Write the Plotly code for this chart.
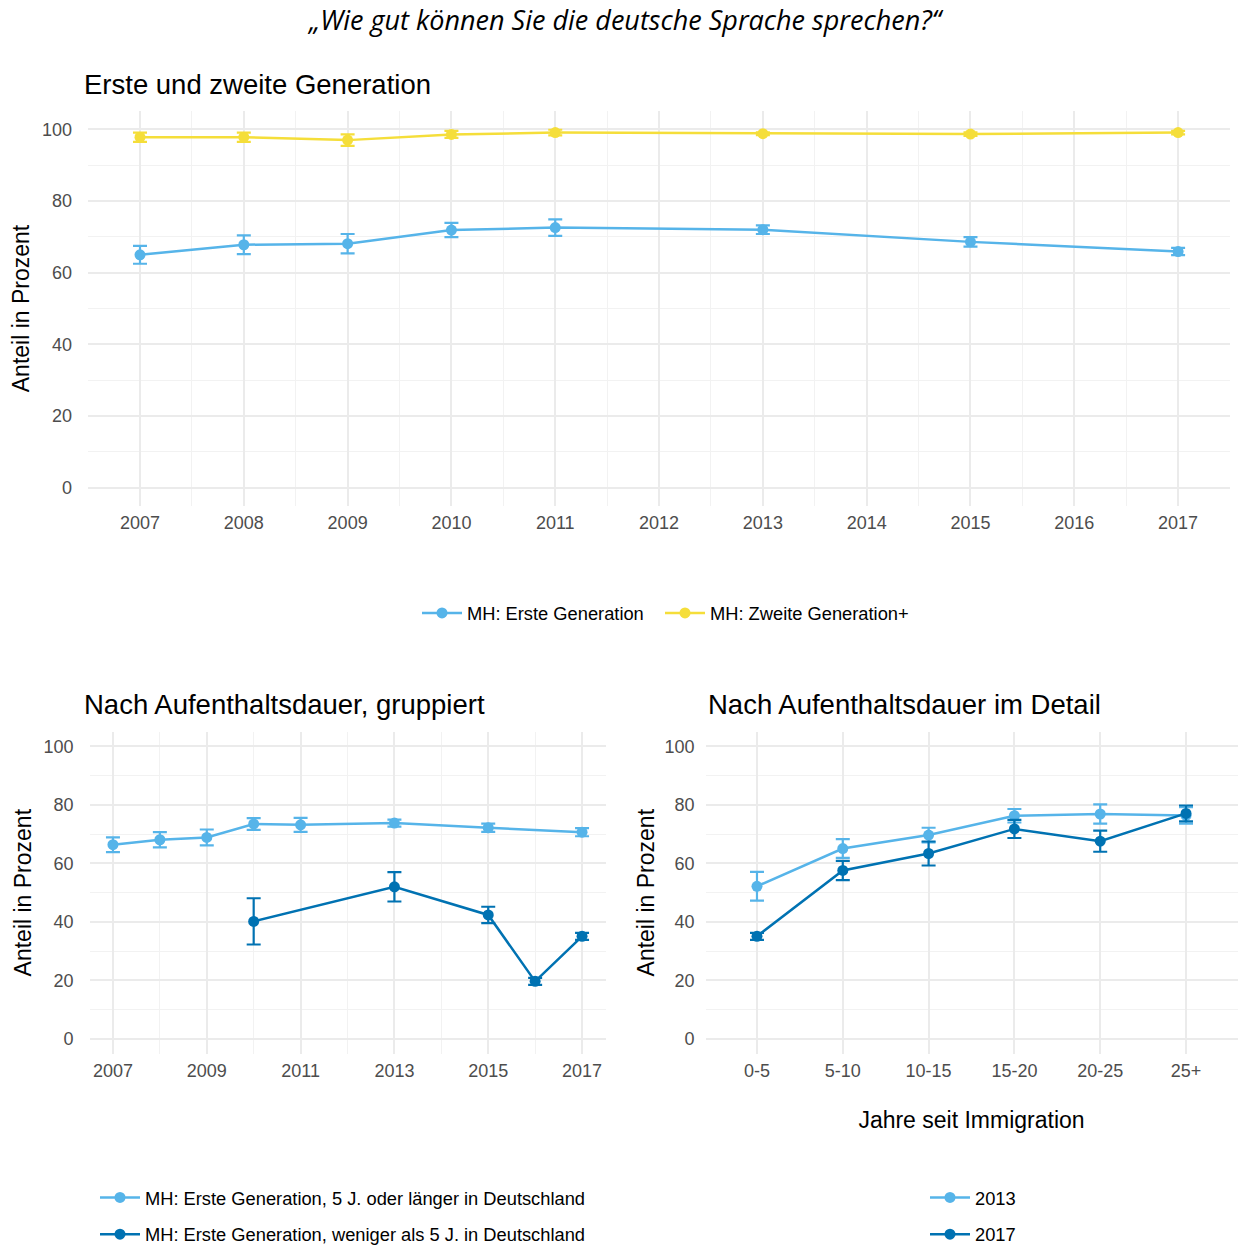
import plotly.graph_objects as go

W, H = 1238, 1253

# ---------------- data ----------------
years_top = [2007, 2008, 2009, 2010, 2011, 2013, 2015, 2017]
erste = [65.0, 67.8, 68.1, 71.9, 72.6, 72.0, 68.6, 65.9]
erste_err = [2.5, 2.6, 2.7, 2.0, 2.3, 1.2, 1.3, 1.0]
zweite = [97.8, 97.8, 97.0, 98.6, 99.1, 98.8, 98.7, 99.1]
zweite_err = [1.3, 1.3, 1.6, 1.0, 0.8, 0.4, 0.5, 0.5]

years_laenger = [2007, 2008, 2009, 2010, 2011, 2013, 2015, 2017]
laenger = [66.4, 68.1, 68.9, 73.5, 73.2, 73.8, 72.2, 70.7]
laenger_err = [2.5, 2.6, 2.7, 2.0, 2.4, 1.2, 1.4, 1.4]
years_weniger = [2010, 2013, 2015, 2016, 2017]
weniger = [40.2, 52.0, 42.4, 19.7, 35.1]
weniger_err = [7.9, 5.0, 2.8, 1.2, 1.2]

dauer_cats = ['0-5', '5-10', '10-15', '15-20', '20-25', '25+']
y2013 = [52.2, 65.1, 69.7, 76.3, 76.9, 76.4]
err2013 = [4.9, 3.2, 2.5, 2.3, 3.3, 2.8]
y2017 = [35.1, 57.6, 63.4, 71.8, 67.6, 77.1]
err2017 = [1.2, 3.3, 4.1, 3.1, 3.6, 2.7]

# ---------------- style ----------------
LIGHT = '#56B4E9'
DARK = '#0072B2'
YELLOW = '#F5DE3A'
FONT = 'Liberation Sans, Arial, sans-serif'
GRID = '#EBEBEB'
MINOR = '#F2F2F2'


def px_x(p):
    return p / W


def px_y(p):
    return 1 - p / H


def trace(x, y, err, color, name, xa, ya, legend, group):
    return go.Scatter(
        x=x, y=y, mode='lines+markers', name=name,
        line=dict(color=color, width=2.5),
        marker=dict(color=color, size=11),
        error_y=dict(type='data', array=err, visible=True, color=color,
                     thickness=2.2, width=7),
        xaxis=xa, yaxis=ya, legend=legend, legendgroup=group,
    )


fig = go.Figure()
fig.add_trace(trace(years_top, erste, erste_err, LIGHT, 'MH: Erste Generation', 'x', 'y', 'legend', 'a'))
fig.add_trace(trace(years_top, zweite, zweite_err, YELLOW, 'MH: Zweite Generation+', 'x', 'y', 'legend4', 'b'))
fig.add_trace(trace(years_laenger, laenger, laenger_err, LIGHT,
                    'MH: Erste Generation, 5 J. oder länger in Deutschland', 'x2', 'y2', 'legend2', 'c'))
fig.add_trace(trace(years_weniger, weniger, weniger_err, DARK,
                    'MH: Erste Generation, weniger als 5 J. in Deutschland', 'x2', 'y2', 'legend2', 'd'))
fig.add_trace(trace(dauer_cats, y2013, err2013, LIGHT, '2013', 'x3', 'y3', 'legend3', 'e'))
fig.add_trace(trace(dauer_cats, y2017, err2017, DARK, '2017', 'x3', 'y3', 'legend3', 'f'))

tickfont = dict(family=FONT, size=18, color='#4D4D4D')
titlefont = dict(family=FONT, size=23, color='#000000')
legfont = dict(family=FONT, size=18.3, color='#000000')


def yaxis(domain, anchor, label_gap=15, title_gap=5):
    return dict(domain=domain, anchor=anchor, range=[-5, 105], tickvals=[0, 20, 40, 60, 80, 100],
                showgrid=True, gridcolor=GRID, gridwidth=2, zeroline=False, showline=False,
                ticks='', tickfont=tickfont, ticklabelstandoff=label_gap,
                minor=dict(tickvals=[10, 30, 50, 70, 90], showgrid=True, gridcolor=MINOR, gridwidth=1),
                title=dict(text='Anteil in Prozent', font=titlefont, standoff=title_gap),
                fixedrange=True)


top_dom_y = [px_y(508), px_y(112)]
bot_dom_y = [px_y(1058.7), px_y(735.3)]


def legend_at(x, y, orientation='v', yanchor='top'):
    return dict(orientation=orientation, x=px_x(x), xanchor='left', y=px_y(y), yanchor=yanchor,
                font=legfont, tracegroupgap=10, itemwidth=40, bgcolor='rgba(0,0,0,0)')


fig.update_layout(
    width=W, height=H, autosize=False,
    margin=dict(l=0, r=0, t=0, b=0),
    paper_bgcolor='white', plot_bgcolor='white',
    font=dict(family=FONT, color='#000000'),
    xaxis=dict(domain=[px_x(88.1), px_x(1230)], anchor='y', range=[2006.5, 2017.5],
               tickvals=list(range(2007, 2018)), showgrid=True, gridcolor=GRID, gridwidth=2,
               zeroline=False, showline=False, ticks='', tickfont=tickfont, ticklabelstandoff=4,
               minor=dict(tickvals=[y + 0.5 for y in range(2006, 2018)], showgrid=True,
                          gridcolor=MINOR, gridwidth=1)),
    yaxis=yaxis(top_dom_y, 'x'),
    xaxis2=dict(domain=[px_x(89.5), px_x(605.5)], anchor='y2', range=[2006.5, 2017.5],
                tickvals=[2007, 2009, 2011, 2013, 2015, 2017], showgrid=True, gridcolor=GRID, gridwidth=2,
                zeroline=False, showline=False, ticks='', tickfont=tickfont, ticklabelstandoff=4,
                minor=dict(tickvals=[2008, 2010, 2012, 2014, 2016], showgrid=True,
                           gridcolor=MINOR, gridwidth=1)),
    yaxis2=yaxis(bot_dom_y, 'x2'),
    xaxis3=dict(domain=[px_x(705.5), px_x(1237.5)], anchor='y3', type='category', range=[-0.6, 5.6],
                showgrid=True, gridcolor=GRID, gridwidth=2, zeroline=False, showline=False,
                ticks='', tickfont=tickfont, ticklabelstandoff=4,
                title=dict(text='Jahre seit Immigration', font=titlefont, standoff=32)),
    yaxis3=yaxis(bot_dom_y, 'x3', label_gap=10, title_gap=3),
    legend=legend_at(417, 616, 'h', 'middle'),
    legend4=legend_at(660, 616, 'h', 'middle'),
    legend2=legend_at(95, 1185),
    legend3=legend_at(925, 1185),
    showlegend=True,
)

annotations = [
    dict(text='„Wie gut können Sie die deutsche Sprache sprechen?“', x=px_x(625), y=px_y(20),
         xref='paper', yref='paper', xanchor='center', yanchor='middle', showarrow=False,
         font=dict(family='Open Sans, sans-serif', size=27, color='#000000', style='italic')),
    dict(text='Erste und zweite Generation', x=px_x(82), y=px_y(85), xref='paper', yref='paper',
         xanchor='left', yanchor='middle', showarrow=False,
         font=dict(family=FONT, size=27.5, color='#000000')),
    dict(text='Nach Aufenthaltsdauer, gruppiert', x=px_x(82), y=px_y(708), xref='paper', yref='paper',
         xanchor='left', yanchor='middle', showarrow=False,
         font=dict(family=FONT, size=27.5, color='#000000')),
    dict(text='Nach Aufenthaltsdauer im Detail', x=px_x(706), y=px_y(708), xref='paper', yref='paper',
         xanchor='left', yanchor='middle', showarrow=False,
         font=dict(family=FONT, size=27.5, color='#000000')),
]
fig.update_layout(annotations=annotations)

# remove the default page margin so the figure fills the window exactly
css_fix = (
    "var s=document.documentElement.style, b=document.body.style;"
    "s.margin='0';s.padding='0';s.height='1253px';s.overflow='hidden';"
    "b.margin='0';b.padding='0';b.height='1253px';b.overflow='hidden';"
    "var g=document.getElementById('{plot_id}');"
    "if(g&&g.parentElement){g.parentElement.style.height='1253px';g.parentElement.style.overflow='hidden';}"
)
fig.write_html('out.html', config={'displayModeBar': False}, post_script=css_fix)
